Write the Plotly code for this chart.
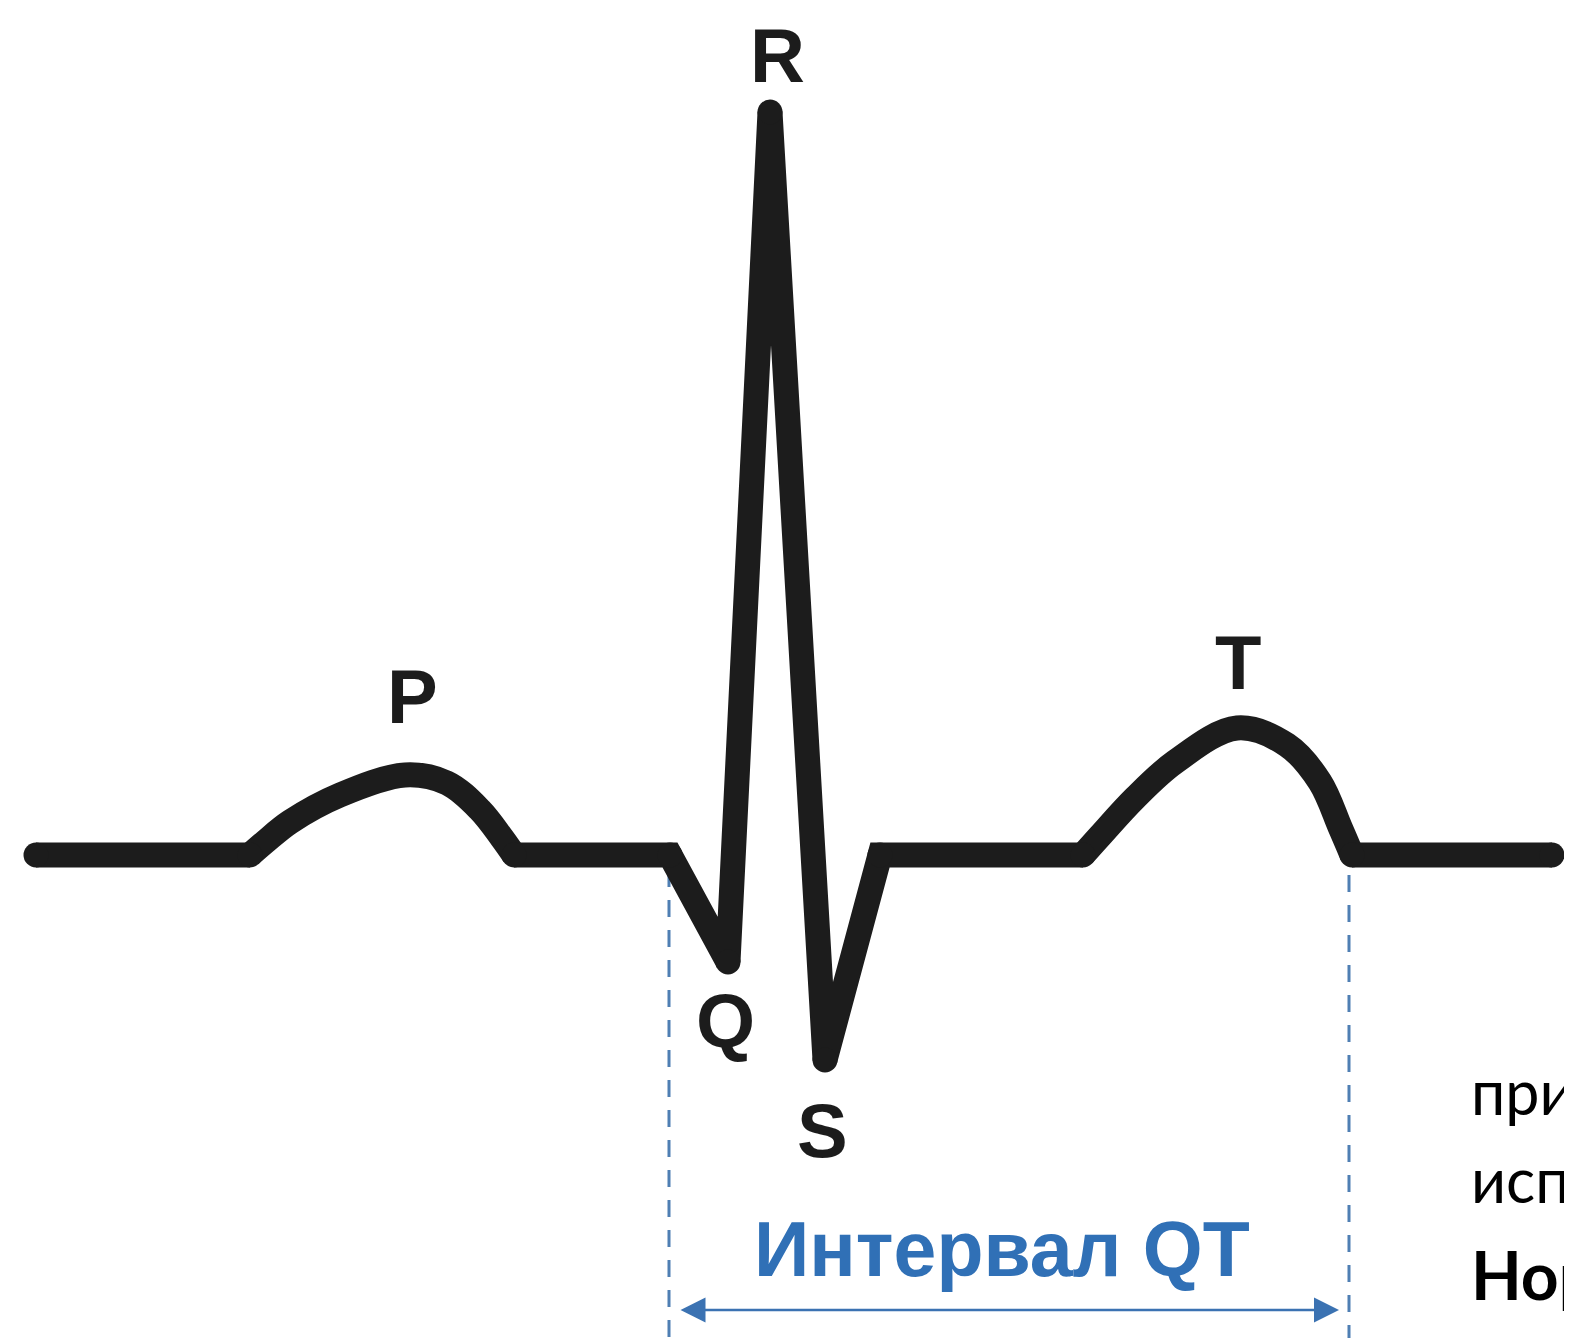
import plotly.graph_objects as go

# ECG waveform (time in arbitrary units, amplitude relative to isoline)
# straight segments: isoline + QRS complex
t = [36, 250, None, 514, 670, 728, 770, 825, 880, 1083, None, 1352, 1552]
amp = [0, 0, None, 0, 0, -107, 743, -205, 0, 0, None, 0, 0]

# P wave (smooth)
p_t = [250, 265, 290, 340, 405, 447, 480, 502, 514]
p_amp = [0, 13, 33, 60, 80, 72, 45, 17, 0]

# T wave (smooth)
t_t = [1083, 1100, 1135, 1175, 1237, 1287, 1320, 1340, 1352]
t_amp = [0, 19, 57, 93, 127, 110, 73, 28, 0]

# key vertices (rounded corners)
corner_t = [36, 250, 514, 670, 728, 770, 825, 880, 1083, 1352, 1552]
corner_amp = [0, 0, 0, 0, -107, 743, -205, 0, 0, 0, 0]

# wave labels
wave_labels = ["P", "Q", "R", "S", "T"]
wave_label_t = [412, 725, 777, 822, 1238]
wave_label_amp = [159, -165, 800, -275, 193]

# QT interval
qt_start = 669
qt_end = 1349
qt_label = "Интервал QT"

# cut-off side text
side_text = ["при", "исп", "<b>Нор</b>"]

OFF = 8  # page body margin compensation
XMAX, YMIN, YMAX = 1572, -483, 855

fig = go.Figure()
ink = "#1c1c1c"
LW = 25
fig.add_trace(go.Scatter(x=t, y=amp, mode="lines", connectgaps=False,
                         line=dict(color=ink, width=LW),
                         hoverinfo="skip", showlegend=False))
for xs, ys in [(p_t, p_amp), (t_t, t_amp)]:
    fig.add_trace(go.Scatter(x=xs, y=ys, mode="lines",
                             line=dict(color=ink, width=LW, shape="spline", smoothing=1.0),
                             hoverinfo="skip", showlegend=False))
fig.add_trace(go.Scatter(x=corner_t, y=corner_amp, mode="markers",
                         marker=dict(color=ink, size=LW, line=dict(width=0)),
                         hoverinfo="skip", showlegend=False))

dash_col = "#4f7fb3"
fig.add_shape(type="line", x0=qt_start, x1=qt_start, y0=-15, y1=YMIN - OFF,
              line=dict(color=dash_col, width=3, dash="17px,13px"), layer="below")
fig.add_shape(type="line", x0=qt_end, x1=qt_end, y0=-20, y1=YMIN - OFF,
              line=dict(color=dash_col, width=3, dash="17px,13px"), layer="below")

# double-headed arrow
arrow_y = -455
fig.add_annotation(x=qt_end - 10, y=arrow_y, ax=qt_start + 10, ay=arrow_y,
                   xref="x", yref="y", axref="x", ayref="y",
                   showarrow=True, arrowhead=2, startarrowhead=2,
                   arrowside="end+start", arrowsize=2.0, startarrowsize=2.0,
                   arrowwidth=2.5, arrowcolor="#3b72b2", text="")

fig.add_annotation(x=1002, y=-394, xref="x", yref="y",
                   text="<b>" + qt_label + "</b>", showarrow=False,
                   font=dict(family="Liberation Sans", size=77, color="#3070b6"),
                   xanchor="center", yanchor="middle")

for lab, lx, ly in zip(wave_labels, wave_label_t, wave_label_amp):
    fig.add_annotation(x=lx, y=ly, xref="x", yref="y", text="<b>" + lab + "</b>",
                       showarrow=False,
                       font=dict(family="Liberation Sans", size=76, color=ink),
                       xanchor="center", yanchor="middle")

side_y = [-275, -363, -461]
side_size = [61, 61, 66]
for txt, sy, ss in zip(side_text, side_y, side_size):
    fig.add_annotation(x=1469, y=sy, xref="x", yref="y", text=txt, showarrow=False,
                       font=dict(family="Lato", size=ss, color="#000000"),
                       xanchor="left", yanchor="bottom")

fig.update_xaxes(range=[OFF, XMAX + OFF], visible=False, fixedrange=True)
fig.update_yaxes(range=[YMIN - OFF, YMAX - OFF], visible=False, fixedrange=True)
fig.update_layout(width=1572, height=1338, margin=dict(l=0, r=0, t=0, b=0),
                  paper_bgcolor="white", plot_bgcolor="white", showlegend=False)

fig.write_html("out.html", config={"displayModeBar": False})
